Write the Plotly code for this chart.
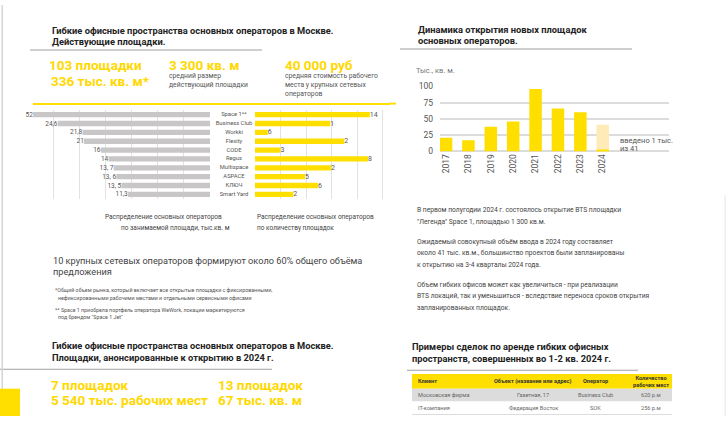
import plotly.graph_objects as go

W, H = 728, 421
YELLOW = '#FFDF00'
YTEXT = '#FFD800'
LIGHT = '#FFEBB8'
GREYBAR = '#C8C6C6'
GRID = '#E2E2E2'
TXT = '#555555'
DARK = '#222222'
FONT = 'Roboto'

# ---------------- data ----------------
operators = ["Space 1**", "Business Club", "Workki", "Flexity", "CODE",
             "Regus", "Multispace", "ASPACE", "КЛЮЧ", "Smart Yard"]
# printed labels of the grey chart (area, тыс. кв. м) and bar lengths as drawn
area_labels = ["52", "24,6", "21,8", "21", "16", "14", "13, 7", "13, 6", "13, 5", "11,3"]
area_bar_len = [6.8, 5.85, 4.9, 4.85, 4.2, 3.9, 3.7, 3.6, 3.4, 3.15]
# printed labels of the yellow chart (number of sites) and bar lengths as drawn
count_labels = ["14", "1", "6", "2", "3", "8", "2", "5", "6", "2"]
count_bar_len = [4.5, 2.95, 0.5, 3.5, 1.0, 4.43, 2.98, 1.96, 2.47, 1.5]

years = [2017, 2018, 2019, 2020, 2021, 2022, 2023, 2024]
opened = [21, 17, 38, 46, 96, 66, 60, 3]
planned_year = [2024]
planned_total = [41]
y_ticks = [0, 25, 50, 75, 100]

table_header = ["Клиент", "Объект (название или адрес)", "Оператор", "Количество<br>рабочих мест"]
table_clients = ["Московская фирма", "IT-компания"]
table_objects = ["Газетная, 17", "Федерация Восток"]
table_operators = ["Business Club", "SOK"]
table_seats = ["620 р.м", "256 р.м"]


def px(x):
    return x / W


def py(y):
    return 1 - y / H


fig = go.Figure()

fig.add_trace(go.Bar(
    x=area_bar_len, y=operators, orientation='h', xaxis='x', yaxis='y',
    marker=dict(color=GREYBAR, line=dict(width=0)),
    text=area_labels, textposition='outside', cliponaxis=False, constraintext='none',
    textfont=dict(size=6.5, color=TXT, family=FONT), hoverinfo='skip'))

fig.add_trace(go.Bar(
    x=count_bar_len, y=operators, orientation='h', xaxis='x2', yaxis='y',
    marker=dict(color=YELLOW, line=dict(width=0)),
    text=count_labels, textposition='outside', cliponaxis=False, constraintext='none',
    textfont=dict(size=7, color=TXT, family=FONT), hoverinfo='skip'))

fig.add_trace(go.Scatter(
    x=[0] * len(operators), y=operators, mode='text', text=operators,
    xaxis='x3', yaxis='y', textposition='middle center',
    textfont=dict(size=5.8, color=TXT, family=FONT), hoverinfo='skip'))

fig.add_trace(go.Bar(
    x=planned_year, y=planned_total, xaxis='x4', yaxis='y4', width=0.56,
    marker=dict(color=LIGHT, line=dict(width=0)), hoverinfo='skip'))
fig.add_trace(go.Bar(
    x=years, y=opened, xaxis='x4', yaxis='y4', width=0.56,
    marker=dict(color=YELLOW, line=dict(width=0)), hoverinfo='skip'))

ann = []
shapes = []


def txt(x, y, s, size, color=TXT, bold=False, anchor='left'):
    ann.append(dict(x=px(x), y=py(y), xref='paper', yref='paper', text=('<b>%s</b>' % s) if bold else s,
                    showarrow=False, xanchor=anchor, yanchor='middle',
                    font=dict(size=size, color=color, family=FONT)))


def rect(x0, x1, y0, y1, color, layer='below'):
    shapes.append(dict(type='rect', xref='paper', yref='paper', x0=px(x0), x1=px(x1),
                       y0=py(y1), y1=py(y0), fillcolor=color, line=dict(width=0), layer=layer))


BIG = 13.5
# top-left block
txt(50, 26, "Гибкие офисные пространства основных операторов в Москве.", 9.3, DARK, True)
txt(50, 37, "Действующие площадки.", 9.3, DARK, True)
txt(47, 61, "103 площадки", BIG, YTEXT, True)
txt(49, 78, "336 тыс. кв. м*", BIG, YTEXT, True)
txt(167, 61, "3 300 кв. м", BIG, YTEXT, True)
txt(167, 72.5, "средний размер", 6.8, TXT)
txt(167, 82, "действующий площадки", 6.8, TXT)
txt(283, 61, "40 000 руб", BIG, YTEXT, True)
txt(283, 72.5, "средняя стоимость рабочего", 6.8, TXT)
txt(283, 82, "места у крупных сетевых", 6.8, TXT)
txt(283, 91, "операторов", 6.8, TXT)

txt(224, 217, "Распределение основных операторов", 6.5, '#444444', anchor='right')
txt(232, 228, "по занимаемой площади, тыс.кв. м", 6.5, '#444444', anchor='right')
txt(255, 217, "Распределение основных операторов", 6.5, '#444444')
txt(255, 228, "по количеству площадок", 6.5, '#444444')

txt(51, 262, "10 крупных сетевых операторов формируют около 60% общего объёма", 9.2, '#444444')
txt(51, 273, "предложения", 9.2, '#444444')
txt(53, 292, "*Общий объем рынка, который включает все открытые площадки с фиксированными,", 5.3, TXT)
txt(56, 300, "нефиксированными рабочими местами и отдельными сервисными офисами", 5.3, TXT)
txt(53, 312, "** Space 1 приобрела портфель оператора WeWork, локации маркетируются", 5.3, TXT)
txt(56, 320, "под брендом \"Space 1 Jet\"", 5.3, TXT)

# bottom-left block
txt(50, 349, "Гибкие офисные пространства основных операторов в Москве.", 9.3, DARK, True)
txt(50, 361, "Площадки, анонсированные к открытию в 2024 г.", 9.3, DARK, True)
txt(49, 389, "7 площадок", BIG, YTEXT, True)
txt(49, 405, "5 540 тыс. рабочих мест", BIG, YTEXT, True)
txt(216, 389, "13 площадок", BIG, YTEXT, True)
txt(216, 405, "67 тыс. кв. м", BIG, YTEXT, True)

# top-right block
txt(416, 25, "Динамика открытия новых площадок", 9.3, DARK, True)
txt(416, 36, "основных операторов.", 9.3, DARK, True)
txt(414, 67, "Тыс., кв. м.", 7.5, '#777777')
txt(618, 139, "введено 1 тыс.", 7.5, TXT)
txt(618, 147, "из 41", 7.5, TXT)

para = [(210, "В первом полугодии 2024 г. состоялось открытие BTS площадки"),
        (222, "\"Легенда\" Space 1, площадью 1 300 кв.м."),
        (243, "Ожидаемый совокупный объём ввода в 2024 году составляет"),
        (254, "около 41 тыс. кв.м., большинство проектов были запланированы"),
        (266, "к открытию на 3-4 кварталы 2024 года."),
        (287, "Объем гибких офисов может как увеличиться - при реализации"),
        (298, "BTS локаций, так и уменьшиться - вследствие переноса сроков открытия"),
        (310, "запланированных площадок.")]
for yy, s in para:
    txt(415, yy, s, 6.7, '#444444')

# bottom-right block
txt(410, 350, "Примеры сделок по аренде гибких офисных", 9.3, DARK, True)
txt(410, 362, "пространств, совершенных во 1-2 кв. 2024 г.", 9.3, DARK, True)

# table (drawn with rectangles + text)
tx0, tx1 = 412, 672
row_edges = [378, 393, 406, 419]
col_pos = [(416, 'left'), (533, 'center'), (595, 'center'), (651, 'center')]
rect(tx0, tx1, row_edges[0], row_edges[1], YELLOW)
rect(tx0, tx1, row_edges[1], row_edges[2], '#DCDCDC')
rect(tx0, tx1, 419, 420, '#DCDCDC')
for (cx, al), h in zip(col_pos, table_header):
    txt(cx, (row_edges[0] + row_edges[1]) / 2, '<b>%s</b>' % h, 5.6, '#333333', anchor=al)
body_cols = [table_clients, table_objects, table_operators, table_seats]
for r in range(len(table_clients)):
    yc = (row_edges[r + 1] + row_edges[r + 2]) / 2
    for (cx, al), col in zip(col_pos, body_cols):
        txt(cx, yc, col[r], 5.6, '#666666', anchor=al)

# separator rules and decorations
rect(30, 262, 45.5, 46.7, '#A0A0A0')
rect(33, 390, 100.5, 102.5, YELLOW)
rect(400, 632, 44.5, 45.7, '#A0A0A0')
rect(389, 396, 100, 102, YELLOW)
rect(0, 272, 372.5, 373.7, '#A0A0A0')
rect(407, 638, 373.5, 374.7, '#A0A0A0')
rect(1.5, 3, 0, 393, '#D5D5D5')
rect(724.5, 726, 195, 421, '#EEEEEE')
rect(0, 20, 393, 421, YELLOW)

fig.update_layout(
    width=W, height=H, margin=dict(l=0, r=0, t=0, b=0),
    paper_bgcolor='white', plot_bgcolor='rgba(0,0,0,0)',
    showlegend=False, barmode='overlay', bargap=0.4,
    font=dict(family=FONT, color=TXT),
    annotations=ann, shapes=shapes,
    xaxis=dict(domain=[px(29), px(210)], range=[6.96, 0], dtick=1, showgrid=True,
               gridcolor=GRID, gridwidth=1, showticklabels=False, zeroline=False,
               ticks='', anchor='y', fixedrange=True),
    xaxis2=dict(domain=[px(255), px(390)], range=[0, 5.29], dtick=1, showgrid=True,
                gridcolor=GRID, gridwidth=1, showticklabels=False, zeroline=False,
                ticks='', anchor='y', fixedrange=True),
    xaxis3=dict(domain=[px(212), px(256)], range=[-1, 1], visible=False, anchor='y'),
    yaxis=dict(domain=[py(198.5), py(107.8)], type='category', autorange='reversed',
               showticklabels=False, showgrid=False, zeroline=False, ticks='', anchor='x'),
    xaxis4=dict(domain=[px(440), px(669)], range=[2016.73, 2026.96], tickvals=years,
                ticktext=[str(y) for y in years], tickangle=-90, showgrid=False,
                zeroline=False, ticks='', anchor='y4',
                tickfont=dict(size=8.5, color=TXT, family=FONT)),
    yaxis4=dict(domain=[py(150), py(83.3)], range=[0, 100], tickvals=y_ticks,
                showgrid=True, gridcolor='#DCDCDC', gridwidth=1.5, zeroline=True,
                zerolinecolor='#DCDCDC', zerolinewidth=1.5, ticks='', anchor='x4',
                ticklabelstandoff=6, tickfont=dict(size=8.5, color=TXT, family=FONT)),
)

fig.write_html("out.html", config={'displayModeBar': False},
               post_script="document.body.style.margin='0';document.body.style.overflow='hidden';")
